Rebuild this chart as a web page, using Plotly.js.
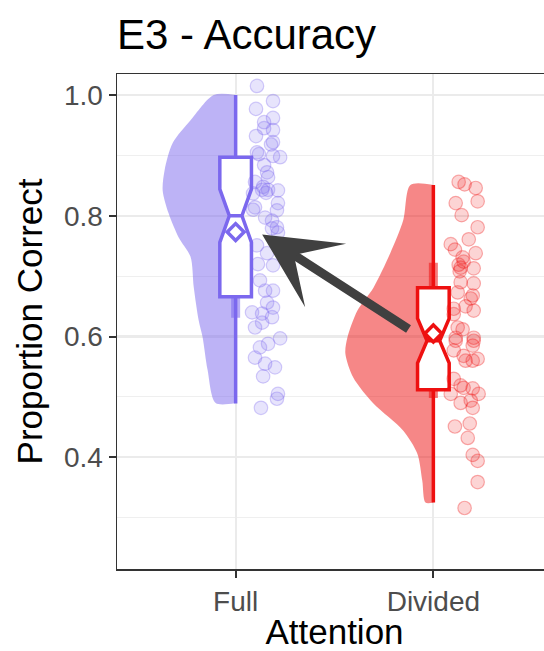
<!DOCTYPE html>
<html><head><meta charset="utf-8">
<script src="https://cdn.plot.ly/plotly-3.0.1.min.js"></script>
<style>html,body{margin:0;padding:0;overflow:hidden;background:#fff}#chart{width:560px;height:651px}</style>
</head><body><div id="chart"></div>
<script>
// ---- data ----
const categories = ['Full', 'Divided'];
const categoryPos = [1, 2];

// individual participant scores (proportion correct) and horizontal jitter
const fullValues = [1.015,0.990,0.977,0.955,0.962,0.945,0.942,0.932,0.922,0.918,0.905,0.902,0.899,0.897,0.884,0.872,0.864,0.856,0.848,0.843,0.843,0.842,0.837,0.838,0.821,0.814,0.810,0.809,0.797,0.792,0.779,0.781,0.772,0.751,0.738,0.718,0.720,0.693,0.676,0.676,0.656,0.648,0.640,0.638,0.632,0.623,0.615,0.597,0.588,0.582,0.565,0.555,0.549,0.534,0.505,0.497,0.482];
const fullJitter = [0.108,0.189,0.103,0.144,0.189,0.144,0.189,0.103,0.189,0.179,0.108,0.118,0.189,0.225,0.144,0.159,0.164,0.098,0.139,0.134,0.164,0.214,0.088,0.154,0.214,0.098,0.088,0.209,0.149,0.184,0.184,0.209,0.214,0.108,0.159,0.189,0.113,0.123,0.149,0.189,0.159,0.189,0.083,0.134,0.184,0.134,0.098,0.225,0.164,0.123,0.098,0.149,0.199,0.139,0.214,0.209,0.128];
const dividedValues = [0.856,0.852,0.846,0.824,0.821,0.801,0.781,0.761,0.753,0.744,0.738,0.731,0.724,0.719,0.714,0.713,0.708,0.690,0.688,0.673,0.668,0.663,0.646,0.650,0.643,0.637,0.615,0.612,0.598,0.598,0.593,0.593,0.585,0.577,0.568,0.563,0.560,0.560,0.530,0.519,0.515,0.514,0.505,0.505,0.490,0.494,0.482,0.451,0.456,0.432,0.404,0.394,0.359,0.316];
const dividedJitter = [0.128,0.158,0.214,0.224,0.113,0.143,0.224,0.179,0.088,0.109,0.214,0.148,0.153,0.128,0.138,0.204,0.133,0.138,0.204,0.123,0.199,0.189,0.103,0.163,0.204,0.103,0.123,0.148,0.204,0.113,0.113,0.204,0.199,0.103,0.153,0.224,0.199,0.163,0.103,0.138,0.153,0.199,0.088,0.229,0.138,0.189,0.199,0.109,0.184,0.174,0.199,0.224,0.224,0.158];

// half-violin density outline (value, half-width)
const fullDensityY = [1.0,0.958,0.92,0.876,0.842,0.804,0.764,0.732,0.682,0.627,0.599,0.545,0.49];
const fullDensityW = [0.111,0.228,0.319,0.359,0.369,0.339,0.288,0.228,0.212,0.187,0.167,0.142,0.101];
const dividedDensityY = [0.851,0.793,0.738,0.681,0.643,0.598,0.572,0.532,0.489,0.444,0.406,0.361,0.325];
const dividedDensityW = [0.116,0.152,0.218,0.303,0.384,0.435,0.445,0.405,0.303,0.152,0.081,0.056,0.040];

// box summaries
const q1 = [0.666, 0.512];
const medians = [0.800, 0.593];
const q3 = [0.897, 0.681];
const lowerWhisker = [0.489, 0.325];
const upperWhisker = [1.0, 0.851];
const notchSpan = [0.044, 0.037];
const means = [0.773, 0.605];
const intervalLow = [0.631, 0.498];
const intervalHigh = [0.860, 0.722];

// ---- styling ----
const colors = ['rgb(123,104,238)', 'rgb(238,16,16)'];
const fills = ['rgba(123,104,238,0.5)', 'rgba(238,16,16,0.5)'];
const ptFill = ['rgba(123,104,238,0.18)', 'rgba(238,16,16,0.18)'];
const ptLine = ['rgba(123,104,238,0.32)', 'rgba(238,16,16,0.32)'];
const FONT = '"Liberation Sans", Arial, Helvetica, sans-serif';

function halfViolin(center, ys, ws) {
  const x = [center], y = [ys[0]];
  ys.forEach((v, i) => { x.push(center - ws[i]); y.push(v); });
  x.push(center); y.push(ys[ys.length - 1]);
  return {x, y};
}

const traces = [];
// boxes on the overlay subplot (above violins)
[0, 1].forEach(i => {
  traces.push({
    type: 'box', xaxis: 'x2', yaxis: 'y2',
    x: [categoryPos[i]], q1: [q1[i]], median: [medians[i]], q3: [q3[i]],
    lowerfence: [lowerWhisker[i]], upperfence: [upperWhisker[i]],
    notchspan: [notchSpan[i]], notched: true, notchwidth: 0.3,
    width: 0.16, whiskerwidth: 0,
    fillcolor: 'white', line: {color: colors[i], width: 3.5},
    boxpoints: false, hoverinfo: 'skip', showlegend: false
  });
});
// half violins on main subplot
[[fullDensityY, fullDensityW], [dividedDensityY, dividedDensityW]].forEach((d, i) => {
  const p = halfViolin(categoryPos[i], d[0], d[1]);
  traces.push({
    type: 'scatter', mode: 'lines', x: p.x, y: p.y, fill: 'toself',
    fillcolor: fills[i], line: {width: 0, shape: 'spline', smoothing: 0.8},
    hoverinfo: 'skip', showlegend: false
  });
});
// interval bars (below boxes)
[0, 1].forEach(i => {
  traces.push({
    type: 'scatter', mode: 'lines',
    x: [categoryPos[i], categoryPos[i]], y: [intervalLow[i], intervalHigh[i]],
    line: {color: colors[i], width: 9}, opacity: 0.55,
    hoverinfo: 'skip', showlegend: false
  });
});
// jittered points on overlay
[[fullValues, fullJitter], [dividedValues, dividedJitter]].forEach((d, i) => {
  traces.push({
    type: 'scatter', mode: 'markers', xaxis: 'x2', yaxis: 'y2',
    x: d[1].map(j => categoryPos[i] + j), y: d[0],
    marker: {size: 13.5, color: ptFill[i], line: {color: ptLine[i], width: 1.2}},
    hoverinfo: 'skip', showlegend: false
  });
});
// means
[0, 1].forEach(i => {
  traces.push({
    type: 'scatter', mode: 'markers', xaxis: 'x2', yaxis: 'y2',
    x: [categoryPos[i]], y: [means[i]],
    marker: {symbol: 'diamond', size: 13, color: 'white', line: {color: colors[i], width: 3.5}},
    hoverinfo: 'skip', showlegend: false
  });
});

const xr = [0.4, 2.6], yr = [0.215, 1.0348];
const layout = {
  width: 560, height: 651, autosize: false,
  margin: {l: 117, r: 8, t: 74, b: 82},
  paper_bgcolor: 'white', plot_bgcolor: 'white',
  font: {family: FONT, color: '#000'},
  title: {text: 'E3 - Accuracy', font: {family: FONT, size: 42, color: '#000'},
    xref: 'paper', x: 0, xanchor: 'left', yref: 'container', y: 0.948, yanchor: 'middle'},
  xaxis: {
    range: xr, tickvals: categoryPos, ticktext: categories,
    showgrid: true, gridcolor: '#EBEBEB', gridwidth: 2.2, zeroline: false,
    showline: true, mirror: true, linecolor: '#333333', linewidth: 1.5,
    ticks: 'outside', ticklen: 7, tickwidth: 2, tickcolor: '#333333',
    tickfont: {family: FONT, size: 28, color: '#4D4D4D'},
    title: {text: 'Attention', font: {family: FONT, size: 35, color: '#000'}, standoff: 6}
  },
  yaxis: {
    range: yr, tickvals: [0.4, 0.6, 0.8, 1.0], ticktext: ['0.4', '0.6', '0.8', '1.0'],
    showgrid: true, gridcolor: '#EBEBEB', gridwidth: 2.2, zeroline: false,
    minor: {tickvals: [0.3, 0.5, 0.7, 0.9], showgrid: true, gridcolor: '#EFEFEF', gridwidth: 1.1, ticks: ''},
    showline: true, mirror: true, linecolor: '#333333', linewidth: 1.5,
    ticks: 'outside', ticklen: 7, tickwidth: 2, tickcolor: '#333333',
    tickfont: {family: FONT, size: 28, color: '#4D4D4D'},
    title: {text: 'Proportion Correct', font: {family: FONT, size: 35, color: '#000'}, standoff: 10}
  },
  xaxis2: {range: xr, overlaying: 'x', visible: false, fixedrange: true},
  yaxis2: {range: yr, overlaying: 'y', visible: false, fixedrange: true},
  annotations: [{
    xref: 'x', yref: 'y', axref: 'x', ayref: 'y',
    x: categoryPos[0] + 0.134, y: means[0] - 0.004,
    ax: categoryPos[1] - 0.118, ay: means[1] + 0.006,
    text: '', showarrow: true, arrowhead: 3, arrowsize: 1.4, arrowwidth: 9, arrowcolor: '#404040'
  }]
};
Plotly.newPlot('chart', traces, layout, {displayModeBar: false, staticPlot: true});
</script>
</body></html>
